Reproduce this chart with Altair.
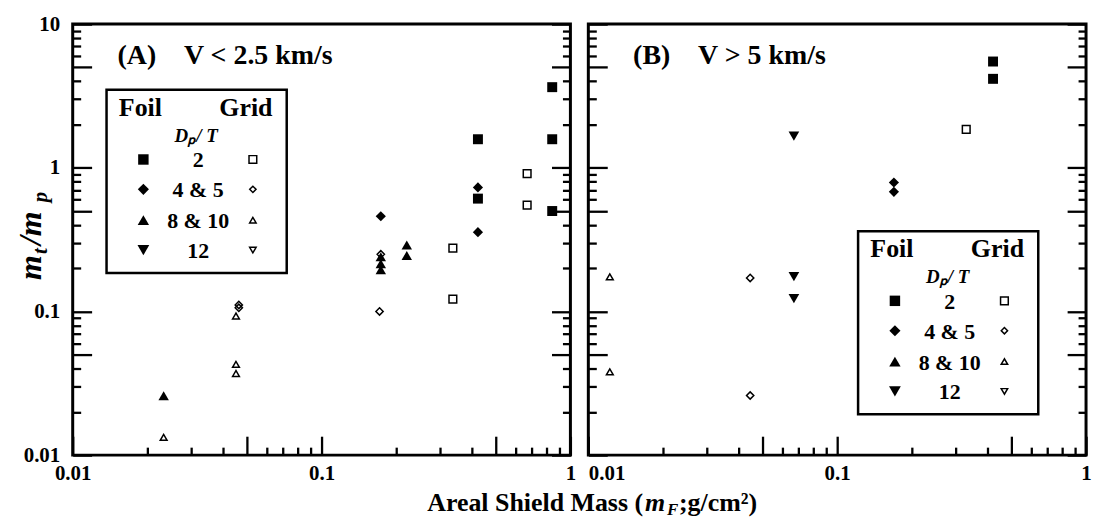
import json
import altair as alt
import pandas as pd

FONT = "Liberation Serif"

# ---------------- data ----------------
GROUPS = ["2", "4 & 5", "8 & 10", "12"]
SHAPES = ["square", "diamond", "triangle-up", "triangle-down"]

# Panel A: V < 2.5 km/s
A_FOIL_GROUP = ["2", "2", "2", "2", "2",
                "4 & 5", "4 & 5", "4 & 5",
                "8 & 10", "8 & 10", "8 & 10", "8 & 10", "8 & 10", "8 & 10"]
A_FOIL_X = [0.425, 0.425, 0.845, 0.845, 0.845,
            0.173, 0.425, 0.425,
            0.0232, 0.173, 0.173, 0.173, 0.22, 0.22]
A_FOIL_Y = [1.58, 0.61, 3.64, 1.58, 0.50,
            0.46, 0.73, 0.356,
            0.0259, 0.24, 0.215, 0.195, 0.29, 0.245]
A_GRID_GROUP = ["2", "2", "2", "2",
                "4 & 5", "4 & 5", "4 & 5", "4 & 5",
                "8 & 10", "8 & 10", "8 & 10", "8 & 10"]
A_GRID_X = [0.337, 0.337, 0.67, 0.67,
            0.0465, 0.0465, 0.173, 0.171,
            0.0453, 0.0453, 0.0453, 0.0232]
A_GRID_Y = [0.276, 0.122, 0.91, 0.55,
            0.111, 0.106, 0.25, 0.10,
            0.093, 0.0428, 0.037, 0.0133]

# Panel B: V > 5 km/s
B_FOIL_GROUP = ["2", "2", "4 & 5", "4 & 5", "12", "12", "12"]
B_FOIL_X = [0.423, 0.423, 0.169, 0.169, 0.067, 0.067, 0.067]
B_FOIL_Y = [5.49, 4.16, 0.79, 0.68, 1.66, 0.175, 0.123]
B_GRID_GROUP = ["2", "8 & 10", "8 & 10", "4 & 5", "4 & 5"]
B_GRID_X = [0.33, 0.0122, 0.0122, 0.0447, 0.0447]
B_GRID_Y = [1.85, 0.174, 0.038, 0.171, 0.026]

# axis ticks / labels
X_TICKS = [0.01, 0.02, 0.03, 0.04, 0.05, 0.06, 0.07, 0.08, 0.09,
           0.1, 0.2, 0.3, 0.4, 0.5, 0.6, 0.7, 0.8, 0.9, 1]
Y_TICKS = [0.01, 0.02, 0.03, 0.04, 0.05, 0.06, 0.07, 0.08, 0.09,
           0.1, 0.2, 0.3, 0.4, 0.5, 0.6, 0.7, 0.8, 0.9,
           1, 2, 3, 4, 5, 6, 7, 8, 9, 10]
LONG_TICKS = [0.01, 0.05, 0.1, 0.5, 1, 5, 10]
X_LABELS = [0.01, 0.1, 1]
Y_LABELS = [0.01, 0.1, 1, 10]

LEG_HEAD = ["Foil", "Grid"]
LEG_SUB = "Dₚ/ T"
PANEL_TITLES = ["(A)\u00a0\u00a0\u00a0\u00a0V < 2.5 km/s", "(B)\u00a0\u00a0\u00a0\u00a0V > 5 km/s"]

# ---------------- layout ----------------
W, H = 500, 433
TICK_DASH = {
    "condition": {"test": "indexof(%s, datum.value) < 0" % json.dumps(LONG_TICKS),
                  "value": [8, 40]},
    "value": [40, 0],
}


def inner_axis(orient, offset, values):
    return alt.Axis(orient=orient, offset=offset, values=values, labels=False,
                    domain=False, ticks=True, tickSize=19, tickWidth=2.3,
                    tickColor="black", tickDash=TICK_DASH, grid=False, title=None)


def txt(s, x, y, size, style="normal", align="left", baseline="alphabetic",
        angle=0, weight="bold"):
    kw = dict(align=align, baseline=baseline, font=FONT, fontSize=size,
              fontWeight=weight, fontStyle=style, color="black")
    if angle:
        kw["angle"] = angle
    return alt.Chart(pd.DataFrame({"t": [s]})).mark_text(**kw).encode(
        x=alt.value(x), y=alt.value(y), text="t:N")


def sym(shape, filled, x, y, size):
    return alt.Chart(pd.DataFrame({"s": [shape]})).mark_point(
        shape=shape, filled=filled, size=size, color="black",
        strokeWidth=1.5, opacity=1).encode(x=alt.value(x), y=alt.value(y))


def legend(bx, by):
    layers = [
        alt.Chart(pd.DataFrame({"b": [0]})).mark_rect(
            fill="white", stroke="black", strokeWidth=2.5).encode(
            x=alt.value(bx), x2=alt.value(bx + 181),
            y=alt.value(by), y2=alt.value(by + 184)),
        txt(LEG_HEAD[0], bx + 34, by + 26, 26, align="center"),
        txt(LEG_HEAD[1], bx + 140, by + 26, 26, align="center"),
        txt(LEG_SUB, bx + 90, by + 52, 19, style="italic", align="center"),
    ]
    rows = [70, 100, 131, 161]
    fsize = [110, 125, 130, 140]
    gsize = [60, 40, 42, 42]
    for g, shp, ry, fs, gs in zip(GROUPS, SHAPES, rows, fsize, gsize):
        layers.append(sym(shp, True, bx + 37, by + ry, fs))
        layers.append(txt(g, bx + 92, by + ry + 8, 22, align="center"))
        layers.append(sym(shp, False, bx + 147, by + ry, gs))
    return layers


def panel(fg, fx, fy, gg, gx, gy, title, ylabels, first, box):
    foil = pd.DataFrame({"g": fg, "x": fx, "y": fy})
    grid = pd.DataFrame({"g": gg, "x": gx, "y": gy})
    xsc = alt.Scale(type="log", domain=[0.01, 1], nice=False)
    ysc = alt.Scale(type="log", domain=[0.01, 10], nice=False)
    shp = alt.Scale(domain=GROUPS, range=SHAPES)

    if first:
        lab_align = "center"
    else:
        lab_align = {"condition": {"test": "datum.value == 0.01", "value": "left"},
                     "value": "center"}
    x_lab = alt.Axis(orient="bottom", values=X_LABELS, format="~g", ticks=False,
                     domain=False, labelPadding=7, labelFlush=False,
                     labelAlign=lab_align, grid=False, title=None)
    if ylabels:
        y_lab = alt.Axis(orient="left", values=Y_LABELS, format="~g", ticks=False,
                         domain=False, labelPadding=13, grid=False, title=None)
    else:
        y_lab = None

    l_foil = alt.Chart(foil).mark_point(filled=True, color="black", opacity=1).encode(
        x=alt.X("x:Q", scale=xsc, axis=x_lab),
        y=alt.Y("y:Q", scale=ysc, axis=y_lab),
        shape=alt.Shape("g:N", scale=shp, legend=None),
        size=alt.Size("g:O", scale=alt.Scale(domain=GROUPS, range=[100, 115, 125, 140]),
                      legend=None),
    )
    l_grid = alt.Chart(grid).mark_point(filled=False, color="black", strokeWidth=1.5,
                                        opacity=1).encode(
        x=alt.X("x:Q", scale=xsc, axis=inner_axis("top", -H, X_TICKS)),
        y=alt.Y("y:Q", scale=ysc, axis=inner_axis("right", -W, Y_TICKS)),
        shape=alt.Shape("g:N", scale=shp, legend=None),
        size=alt.Size("g:O", scale=alt.Scale(domain=GROUPS, range=[60, 40, 42, 42]),
                      legend=None),
    )
    l_help = alt.Chart(foil).mark_point(opacity=0).encode(
        x=alt.X("x:Q", scale=xsc, axis=None),
        y=alt.Y("y:Q", scale=ysc, axis=inner_axis("left", -W, Y_TICKS)),
    )
    layers = [l_help, l_grid, l_foil, txt(title, 45, 40, 28)]
    layers += legend(*box)

    if first:
        # y axis title  m_t / m_p  (rotated)
        bx = -32
        layers += [
            txt("m", bx, 257, 32, style="italic", angle=270),
            txt("t", bx + 6, 231, 21, style="italic", angle=270),
            txt("\u00a0/m", bx, 222, 32, style="italic", angle=270),
            txt("p", bx + 6, 179, 21, style="italic", angle=270),
        ]
        # x axis title  Areal Shield Mass (m_F ;g/cm²)
        x0, yb = 573, 489
        layers += [
            txt("Areal Shield Mass (", x0, yb, 26, align="right"),
            txt("m", x0 + 2, yb, 26, style="italic"),
            txt("F", x0 + 24, yb + 4, 17, style="italic"),
            txt("\u00a0;g/cm²)", x0 + 36, yb, 26),
        ]

    return alt.layer(*layers).resolve_axis(x="independent", y="independent").resolve_scale(
        size="independent").properties(width=W, height=H)


pA = panel(A_FOIL_GROUP, A_FOIL_X, A_FOIL_Y, A_GRID_GROUP, A_GRID_X, A_GRID_Y,
           PANEL_TITLES[0], True, True, (34, 66))
pB = panel(B_FOIL_GROUP, B_FOIL_X, B_FOIL_Y, B_GRID_GROUP, B_GRID_X, B_GRID_Y,
           PANEL_TITLES[1], False, False, (271, 208))

chart = alt.hconcat(pA, pB, spacing=18, bounds="flush").properties(
    padding={"left": 5, "top": 2, "right": 2, "bottom": 0},
    background="white",
).configure_view(stroke="black", strokeWidth=3).configure_axis(
    labelFont=FONT, labelFontSize=21, labelFontWeight="bold", labelColor="black",
)

chart.save("out.html", embed_options={"renderer": "svg", "actions": False})
